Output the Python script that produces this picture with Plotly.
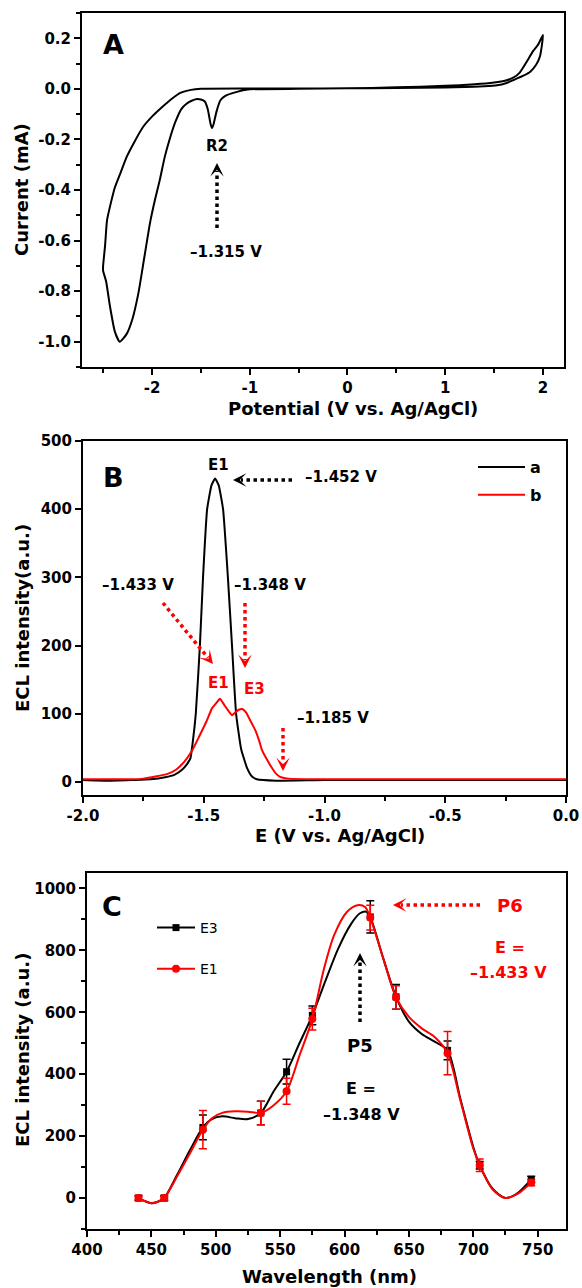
import plotly.graph_objects as go

W, H = 582, 1288
FONT = "DejaVu Sans"
RED = "#ff0000"

# ---------------- Panel A data (cyclic voltammogram) ----------------
cv_v = [0.0, 0.5, 1.0, 1.2, 1.4, 1.53, 1.62, 1.70, 1.80, 1.87, 1.93, 1.97, 2.0,
        1.95, 1.90, 1.83, 1.76, 1.70, 1.62, 1.50, 1.30, 1.0, 0.5, 0.0, -0.5, -1.0,
        -1.15, -1.25, -1.30, -1.34, -1.37, -1.385, -1.40, -1.43, -1.46, -1.50, -1.54,
        -1.60, -1.65, -1.70, -1.76, -1.82, -1.87, -1.92, -1.97, -2.02, -2.08, -2.14,
        -2.20, -2.26, -2.33, -2.38, -2.43, -2.47, -2.50,
        -2.50, -2.48, -2.46, -2.42, -2.38, -2.32, -2.26, -2.18, -2.09, -2.0, -1.89,
        -1.80, -1.71, -1.6, -1.5, -1.0, 0.0]
cv_i = [0.002, 0.003, 0.005, 0.007, 0.010, 0.014, 0.022, 0.035, 0.052, 0.068, 0.095, 0.13, 0.213,
        0.175, 0.150, 0.105, 0.063, 0.045, 0.033, 0.025, 0.018, 0.012, 0.006, 0.002, 0.0, -0.002,
        -0.014, -0.028, -0.045, -0.09, -0.14, -0.155, -0.14, -0.08, -0.05, -0.042, -0.04,
        -0.048, -0.06, -0.08, -0.13, -0.20, -0.27, -0.36, -0.44, -0.53, -0.67, -0.81,
        -0.91, -0.97, -1.0, -0.96, -0.86, -0.76, -0.72,
        -0.70, -0.62, -0.52, -0.45, -0.39, -0.33, -0.27, -0.21, -0.15, -0.11, -0.07,
        -0.04, -0.016, -0.004, 0.0, 0.001, 0.002]

a_xticks = [-2, -1, 0, 1, 2]
a_xtext = ["-2", "-1", "0", "1", "2"]
a_yticks = [-1.0, -0.8, -0.6, -0.4, -0.2, 0.0, 0.2]
a_ytext = ["-1.0", "-0.8", "-0.6", "-0.4", "-0.2", "0.0", "0.2"]

# ---------------- Panel B data (ECL vs potential) ----------------
b_a_v = [-2.0, -1.9, -1.8, -1.72, -1.66, -1.62, -1.59, -1.57, -1.555, -1.545, -1.533,
         -1.516, -1.503, -1.486, -1.468, -1.453, -1.438, -1.42, -1.40, -1.383, -1.366,
         -1.345, -1.32, -1.30, -1.28, -1.2, -1.0, -0.5, 0.0]
b_a_i = [3, 2, 3, 4, 7, 11, 18, 26, 35, 60, 100,
         200, 300, 400, 435, 445, 435, 400, 300, 200, 100,
         48, 20, 8, 4, 2, 3, 3, 3]
b_b_v = [-2.0, -1.9, -1.8, -1.75, -1.70, -1.65, -1.615, -1.58, -1.55, -1.52, -1.49,
         -1.466, -1.45, -1.433, -1.415, -1.395, -1.383, -1.37, -1.355, -1.34, -1.325,
         -1.31, -1.295, -1.284, -1.27, -1.26, -1.24, -1.22, -1.20, -1.18, -1.15, -1.0,
         -0.5, 0.0]
b_b_i = [4, 4, 4, 5, 8, 12, 18, 30, 45, 66, 88,
         108, 115, 122, 113, 103, 98, 102, 106, 107, 102,
         92, 82, 74, 60, 48, 34, 22, 12, 7, 5, 4,
         4, 4]
b_xticks = [-2.0, -1.5, -1.0, -0.5, 0.0]
b_xtext = ["-2.0", "-1.5", "-1.0", "-0.5", "0.0"]
b_yticks = [0, 100, 200, 300, 400, 500]

# ---------------- Panel C data (ECL spectra) ----------------
wl = [440, 460, 490, 535, 555, 575, 620, 640, 680, 705, 745]
e3 = [0, 0, 228, 275, 408, 590, 908, 650, 477, 106, 60]
e3_err = [8, 8, 40, 38, 40, 30, 52, 40, 30, 12, 10]
e1 = [0, 0, 221, 275, 345, 578, 906, 648, 468, 106, 50]
e1_err = [6, 6, 62, 38, 42, 35, 40, 38, 70, 20, 10]

e3_curve_wl = [440, 445, 450, 455, 460, 470, 480, 490, 497, 505, 515, 525, 535, 545, 555,
               565, 575, 585, 595, 605, 612, 617, 620, 630, 640, 650, 660, 670, 680,
               690, 700, 705, 715, 725, 735, 745]
e3_curve = [0, -10, -17, -12, 0, 75, 155, 228, 255, 264, 258, 255, 275, 345, 408,
            500, 590, 700, 805, 885, 920, 925, 908, 775, 650, 570, 530, 505, 477,
            320, 165, 106, 30, 0, 18, 60]
e1_curve_wl = [440, 445, 450, 455, 460, 470, 480, 490, 497, 505, 515, 525, 535, 545, 555,
               565, 575, 584, 592, 602, 610, 616, 620, 630, 640, 650, 660, 670, 680,
               690, 700, 705, 715, 725, 735, 745]
e1_curve = [0, -10, -17, -12, 0, 70, 145, 221, 258, 275, 280, 279, 275, 300, 345,
            460, 578, 740, 850, 925, 946, 940, 906, 775, 648, 585, 548, 520, 468,
            315, 160, 106, 28, 0, 15, 50]
c_xticks = [400, 450, 500, 550, 600, 650, 700, 750]
c_yticks = [0, 200, 400, 600, 800, 1000]


def px(x):
    return x / W


def py(y):
    return 1 - y / H


fig = go.Figure()

# Panel A
fig.add_trace(go.Scatter(x=cv_v, y=cv_i, mode="lines", xaxis="x", yaxis="y",
                         line=dict(color="black", width=2, shape="spline", smoothing=0.5),
                         showlegend=False, hoverinfo="skip"))

# Panel B
fig.add_trace(go.Scatter(x=b_a_v, y=b_a_i, mode="lines", xaxis="x2", yaxis="y2", name="a",
                         line=dict(color="black", width=2, shape="spline", smoothing=0.4),
                         legend="legend", legendgroup="a"))
fig.add_trace(go.Scatter(x=b_b_v, y=b_b_i, mode="lines", xaxis="x2", yaxis="y2", name="b",
                         line=dict(color=RED, width=2, shape="spline", smoothing=0.4),
                         legend="legend", legendgroup="b"))

# Panel C
fig.add_trace(go.Scatter(x=e3_curve_wl, y=e3_curve, mode="lines", xaxis="x3", yaxis="y3",
                         line=dict(color="black", width=2, shape="spline", smoothing=0.8),
                         showlegend=False, hoverinfo="skip"))
fig.add_trace(go.Scatter(x=wl, y=e3, mode="markers", xaxis="x3", yaxis="y3",
                         marker=dict(symbol="square", size=7, color="black"),
                         error_y=dict(type="data", array=e3_err, color="black", thickness=1.5, width=4),
                         showlegend=False))
fig.add_trace(go.Scatter(x=e1_curve_wl, y=e1_curve, mode="lines", xaxis="x3", yaxis="y3",
                         line=dict(color=RED, width=2, shape="spline", smoothing=0.8),
                         showlegend=False, hoverinfo="skip"))
fig.add_trace(go.Scatter(x=wl, y=e1, mode="markers", xaxis="x3", yaxis="y3",
                         marker=dict(symbol="circle", size=8, color=RED),
                         error_y=dict(type="data", array=e1_err, color=RED, thickness=1.5, width=4),
                         showlegend=False))
# legend entries for panel C
fig.add_trace(go.Scatter(x=[None], y=[None], mode="lines+markers", xaxis="x3", yaxis="y3", name="E3",
                         line=dict(color="black", width=2),
                         marker=dict(symbol="square", size=7, color="black"),
                         legend="legend2", legendgroup="E3"))
fig.add_trace(go.Scatter(x=[None], y=[None], mode="lines+markers", xaxis="x3", yaxis="y3", name="E1",
                         line=dict(color=RED, width=2),
                         marker=dict(symbol="circle", size=8, color=RED),
                         legend="legend2", legendgroup="E1"))

tickfont = dict(family=FONT, size=15, color="black", weight="bold")


def axis(domain, rng, anchor, tickvals, ticktext=None, minor_dtick=None):
    d = dict(domain=domain, range=rng, anchor=anchor, showline=True, linewidth=2,
             linecolor="black", mirror=True, ticks="outside", ticklen=6, tickwidth=2,
             tickcolor="black", showgrid=False, zeroline=False, tickmode="array",
             tickvals=tickvals, tickfont=tickfont, fixedrange=True, automargin=False)
    if ticktext is not None:
        d["ticktext"] = ticktext
    if minor_dtick is not None:
        d["minor"] = dict(tickmode="linear", dtick=minor_dtick, tick0=0, ticks="outside",
                          ticklen=4, tickwidth=2, tickcolor="black", showgrid=False)
    return d


layout = dict(
    width=W, height=H, margin=dict(l=0, r=0, t=0, b=0, autoexpand=False),
    paper_bgcolor="white", plot_bgcolor="white",
    xaxis=axis([px(82), px(564)], [-2.716, 2.215], "y", a_xticks, a_xtext, 0.5),
    yaxis=axis([py(367), py(13)], [-1.1, 0.3], "x", a_yticks, a_ytext, 0.1),
    xaxis2=axis([px(83), px(566)], [-2.0, 0.0], "y2", b_xticks, b_xtext, 0.25),
    yaxis2=axis([py(795), py(441)], [-19, 500], "x2", b_yticks),
    xaxis3=axis([px(87), px(566)], [400, 772], "y3", c_xticks, None, 25),
    yaxis3=axis([py(1229), py(873)], [-100, 1050], "x3", c_yticks, None, 100),
    legend=dict(x=px(473), y=py(450), xanchor="left", yanchor="top",
                bgcolor="rgba(0,0,0,0)", borderwidth=0, tracegroupgap=4, itemwidth=47,
                font=dict(family=FONT, size=16, color="black", weight="bold")),
    legend2=dict(x=px(152), y=py(912), xanchor="left", yanchor="top",
                 bgcolor="rgba(0,0,0,0)", borderwidth=0, tracegroupgap=20, itemwidth=38,
                 font=dict(family=FONT, size=14, color="black")),
)

ann = []
shapes = []


def txt(x, y, s, size=15, color="black", bold=True, angle=0):
    ann.append(dict(x=px(x), y=py(y), xref="paper", yref="paper", text=s, showarrow=False,
                    xanchor="center", yanchor="middle", textangle=angle,
                    font=dict(family=FONT, size=size, color=color,
                              weight="bold" if bold else "normal")))


def darrow(x0, y0, x1, y1, color="black"):
    """Dotted arrow from (x0,y0) to tip (x1,y1) in pixel coords."""
    dx, dy = x1 - x0, y1 - y0
    L = (dx * dx + dy * dy) ** 0.5
    ux, uy = dx / L, dy / L
    back = 8
    shapes.append(dict(type="line", xref="paper", yref="paper",
                       x0=px(x0), y0=py(y0), x1=px(x1 - ux * back), y1=py(y1 - uy * back),
                       line=dict(color=color, width=3.5, dash="dot")))
    ann.append(dict(x=px(x1), y=py(y1), xref="paper", yref="paper", text="",
                    showarrow=True, axref="pixel", ayref="pixel",
                    ax=-ux * back, ay=-uy * back, arrowhead=3, arrowsize=0.75,
                    arrowwidth=3, arrowcolor=color, standoff=0))


# Panel A texts
txt(113, 45, "A", size=27)
txt(217, 146, "R2", size=15)
darrow(217, 228, 217, 163)
txt(226, 252, "–1.315 V", size=15)
txt(22, 190, "Current (mA)", size=18, angle=-90)
txt(353, 408, "Potential (V vs. Ag/AgCl)", size=18)

# Panel B texts
txt(113, 477, "B", size=27)
txt(218, 465, "E1", size=15)
darrow(292, 480, 233, 480)
txt(341, 477, "–1.452 V", size=15)
txt(138, 585, "–1.433 V", size=15)
txt(270, 585, "–1.348 V", size=15)
darrow(163, 603, 213, 664, RED)
darrow(245, 603, 245, 668, RED)
txt(218, 683, "E1", size=15, color=RED)
txt(254, 689, "E3", size=15, color=RED)
txt(333, 718, "–1.185 V", size=15)
darrow(283, 728, 283, 771, RED)
txt(22, 618, "ECL intensity(a.u.)", size=18, angle=-90)
txt(340, 836, "E (V vs. Ag/AgCl)", size=18)

# Panel C texts
txt(112, 907, "C", size=27)
txt(510, 905, "P6", size=18, color=RED)
darrow(480, 905, 393, 905, RED)
txt(510, 947, "E =", size=16, color=RED)
txt(508, 972, "–1.433 V", size=16, color=RED)
darrow(360, 1022, 360, 953)
txt(360, 1045, "P5", size=18)
txt(361, 1088, "E =", size=16)
txt(361, 1114, "–1.348 V", size=16)
txt(22, 1050, "ECL intensity (a.u.)", size=18, angle=-90)
txt(329, 1276, "Wavelength (nm)", size=18)

layout["annotations"] = ann
layout["shapes"] = shapes
fig.update_layout(**layout)

fig.write_html("out.html", config={"displayModeBar": False},
               post_script="document.body.style.margin='0px';document.body.style.overflow='hidden';")
